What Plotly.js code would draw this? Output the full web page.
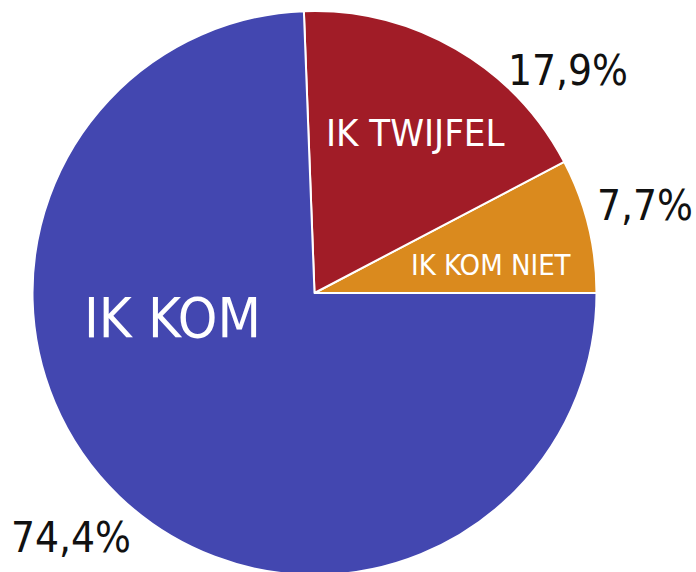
<!DOCTYPE html>
<html>
<head>
<meta charset="utf-8">
<script src="https://cdn.plot.ly/plotly-3.0.1.min.js"></script>
<style>
html,body{margin:0;padding:0;overflow:hidden;background:#fff;}
#chart{width:696px;height:600px;}
</style>
</head>
<body>
<div id="chart"></div>
<script>
// Data
var labels = ["IK KOM NIET", "IK TWIJFEL", "IK KOM"];
var values = [7.7, 17.9, 74.4];
var colors = ["#DA8A1E", "#A11C27", "#4347B0"];

// Layout helpers (pixel positions of text, in a 696x600 canvas)
var W = 696, H = 600;
var labelPos = [ {x: 491, y: 265, size: 29}, {x: 415, y: 133, size: 38}, {x: 172, y: 317, size: 56} ];
var pctPos   = [ {x: 645, y: 206}, {x: 568, y: 70}, {x: 71, y: 537} ];
var FONT = "'DejaVu Sans Condensed', 'Liberation Sans Narrow', sans-serif";

function fmt(v){ return v.toFixed(1).replace('.', ',') + '%'; }

var annotations = [];
labels.forEach(function(l, i){
  annotations.push({
    text: l, xref: 'paper', yref: 'paper',
    x: labelPos[i].x / W, y: 1 - labelPos[i].y / H,
    xanchor: 'center', yanchor: 'middle', showarrow: false,
    font: {family: FONT, size: labelPos[i].size, color: '#ffffff'}
  });
  annotations.push({
    text: fmt(values[i]), xref: 'paper', yref: 'paper',
    x: pctPos[i].x / W, y: 1 - pctPos[i].y / H,
    xanchor: 'center', yanchor: 'middle', showarrow: false,
    font: {family: FONT, size: 42, color: '#111111'}
  });
});

var total = values.reduce(function(a, b){ return a + b; }, 0);
var cx = 314.5, cy = 293, r = 282;
var trace = {
  type: 'pie',
  labels: labels,
  values: values,
  sort: false,
  direction: 'counterclockwise',
  rotation: 90 - 360 * values[0] / total,
  marker: {colors: colors, line: {color: '#ffffff', width: 2}},
  textinfo: 'none',
  hoverinfo: 'label+percent',
  showlegend: false,
  domain: {
    x: [(cx - r) / W, (cx + r) / W],
    y: [1 - (cy + r) / H, 1 - (cy - r) / H]
  }
};

var layout = {
  width: W, height: H,
  margin: {l: 0, r: 0, t: 0, b: 0},
  paper_bgcolor: '#ffffff',
  showlegend: false,
  annotations: annotations
};

Plotly.newPlot('chart', [trace], layout, {displayModeBar: false, staticPlot: true});
</script>
</body>
</html>
